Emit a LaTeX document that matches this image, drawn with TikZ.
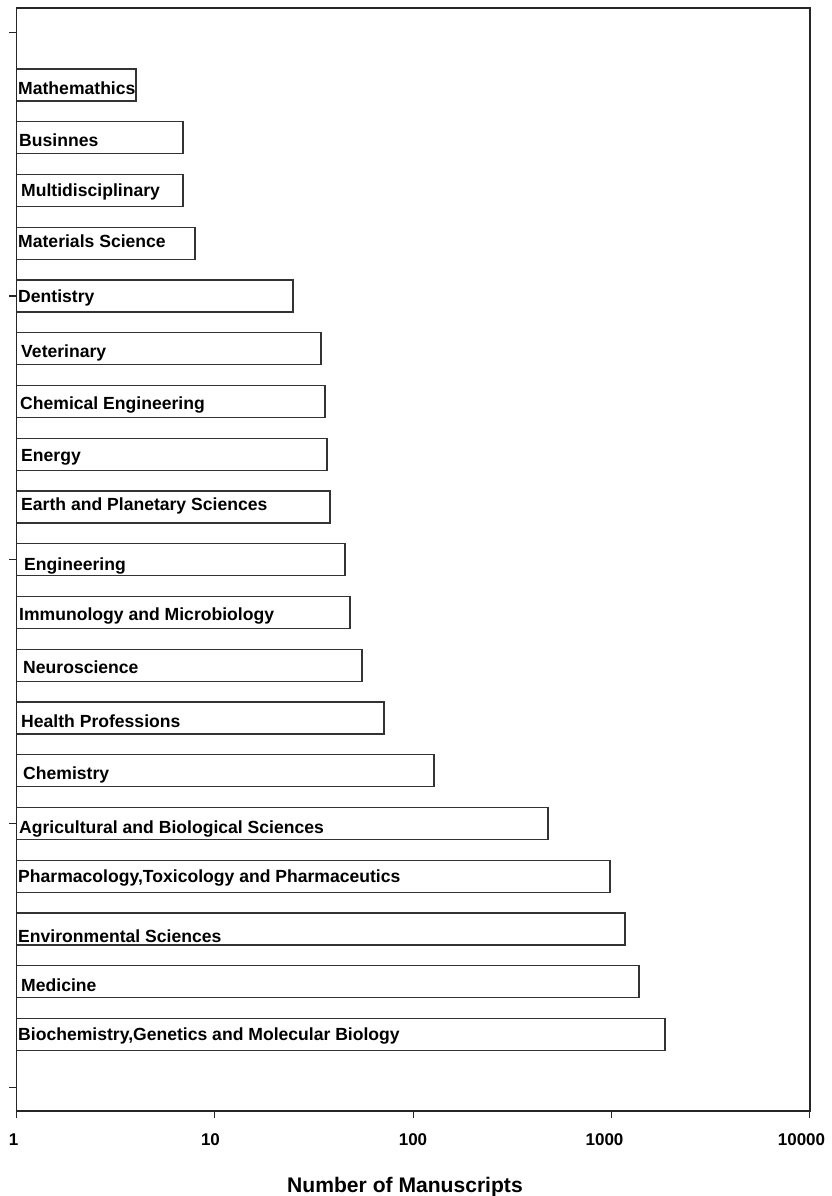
\documentclass[tikz,border=0pt]{standalone}
\usepackage{fontspec}
\setmainfont{Liberation Sans}
\begin{document}
\begin{tikzpicture}[
  x=0.03cm, y=-0.03cm,
  font=\fontsize{14.5}{17}\selectfont\bfseries,
  frame/.style   = {draw=black!85, line width=1.2pt},
  bar/.style     = {draw=black!80, line width=0.9pt, fill=white},
  axtick/.style  = {draw=black!85, line width=0.9pt},
  lbl/.style     = {anchor=base west, inner sep=0pt, font=\fontsize{15}{18}\selectfont\bfseries},
  ticklbl/.style = {anchor=base, inner sep=0pt},
  axtitle/.style = {anchor=base, inner sep=0pt, font=\fontsize{18}{21}\selectfont\bfseries},
]
\useasboundingbox (0,0) rectangle (831,1196);

%%────────── bars (log scale, 198.3 px per decade) ───────────
\draw[bar] (16.5,  69.0) rectangle (136,  101.0);
\draw[bar] (16.5, 121.8) rectangle (183,  153.8);
\draw[bar] (16.5, 174.5) rectangle (183,  206.5);
\draw[bar] (16.5, 227.3) rectangle (195,  259.3);
\draw[bar] (16.5, 280.0) rectangle (293,  312.0);
\draw[bar] (16.5, 332.8) rectangle (321,  364.8);
\draw[bar] (16.5, 385.5) rectangle (325,  417.5);
\draw[bar] (16.5, 438.3) rectangle (327,  470.3);
\draw[bar] (16.5, 491.0) rectangle (330,  523.0);
\draw[bar] (16.5, 543.8) rectangle (345,  575.8);
\draw[bar] (16.5, 596.5) rectangle (350,  628.5);
\draw[bar] (16.5, 649.3) rectangle (362,  681.3);
\draw[bar] (16.5, 702.0) rectangle (384,  734.0);
\draw[bar] (16.5, 754.8) rectangle (434,  786.8);
\draw[bar] (16.5, 807.5) rectangle (548,  839.5);
\draw[bar] (16.5, 860.3) rectangle (610,  892.3);
\draw[bar] (16.5, 913.0) rectangle (625,  945.0);
\draw[bar] (16.5, 965.8) rectangle (639,  997.8);
\draw[bar] (16.5,1018.5) rectangle (665, 1050.5);

%%────────── bar labels ──────────────────────────────────────
\node[lbl] (math)   at (18,   94.0) {Mathemathics};
\node[lbl] (busi)   at (19,  146.0) {Businnes};
\node[lbl] (multi)  at (21,  196.7) {Multidisciplinary};
\node[lbl] (mater)  at (18,  247.3) {Materials Science};
\node[lbl] (dent)   at (18,  302.0) {Dentistry};
\node[lbl] (vet)    at (21,  357.7) {Veterinary};
\node[lbl] (chemen) at (20,  409.0) {Chemical Engineering};
\node[lbl] (energy) at (21,  461.0) {Energy};
\node[lbl] (earth)  at (21,  510.7) {Earth and Planetary Sciences};
\node[lbl] (engin)  at (24,  570.0) {Engineering};
\node[lbl] (immuno) at (19,  620.7) {Immunology and Microbiology};
\node[lbl] (neuro)  at (23,  673.3) {Neuroscience};
\node[lbl] (health) at (21,  727.3) {Health Professions};
\node[lbl] (chem)   at (23,  779.0) {Chemistry};
\node[lbl] (agri)   at (19,  833.3) {Agricultural and Biological Sciences};
\node[lbl] (pharm)  at (18,  882.7) {Pharmacology,Toxicology and Pharmaceutics};
\node[lbl] (envir)  at (18,  942.7) {Environmental Sciences};
\node[lbl] (med)    at (21,  991.7) {Medicine};
\node[lbl] (bioch)  at (18, 1040.7) {Biochemistry,Genetics and Molecular Biology};

%%────────── frame and ticks ─────────────────────────────────
\draw[frame] (16.5,8) rectangle (810,1111);

\draw[axtick] (9,  32.25) -- (16.5,  32.25);
\draw[axtick] (9, 296.00) -- (16.5, 296.00);
\draw[axtick] (9, 559.75) -- (16.5, 559.75);
\draw[axtick] (9, 823.50) -- (16.5, 823.50);
\draw[axtick] (9,1087.25) -- (16.5,1087.25);

\draw[axtick] ( 16.5,1111) -- ( 16.5,1118);
\draw[axtick] (214.8,1111) -- (214.8,1118);
\draw[axtick] (413.1,1111) -- (413.1,1118);
\draw[axtick] (611.4,1111) -- (611.4,1118);
\draw[axtick] (809.7,1111) -- (809.7,1118);

%%────────── axis labels ─────────────────────────────────────
\node[ticklbl] (t1)     at ( 13.5,1145) {1};
\node[ticklbl] (t10)    at (210.5,1145) {10};
\node[ticklbl] (t100)   at (413.0,1145) {100};
\node[ticklbl] (t1000)  at (604.5,1145) {1000};
\node[ticklbl] (t10000) at (801.5,1145) {10000};

\node[axtitle] (xtitle) at (405,1192) {Number of Manuscripts};

\end{tikzpicture}
\end{document}
